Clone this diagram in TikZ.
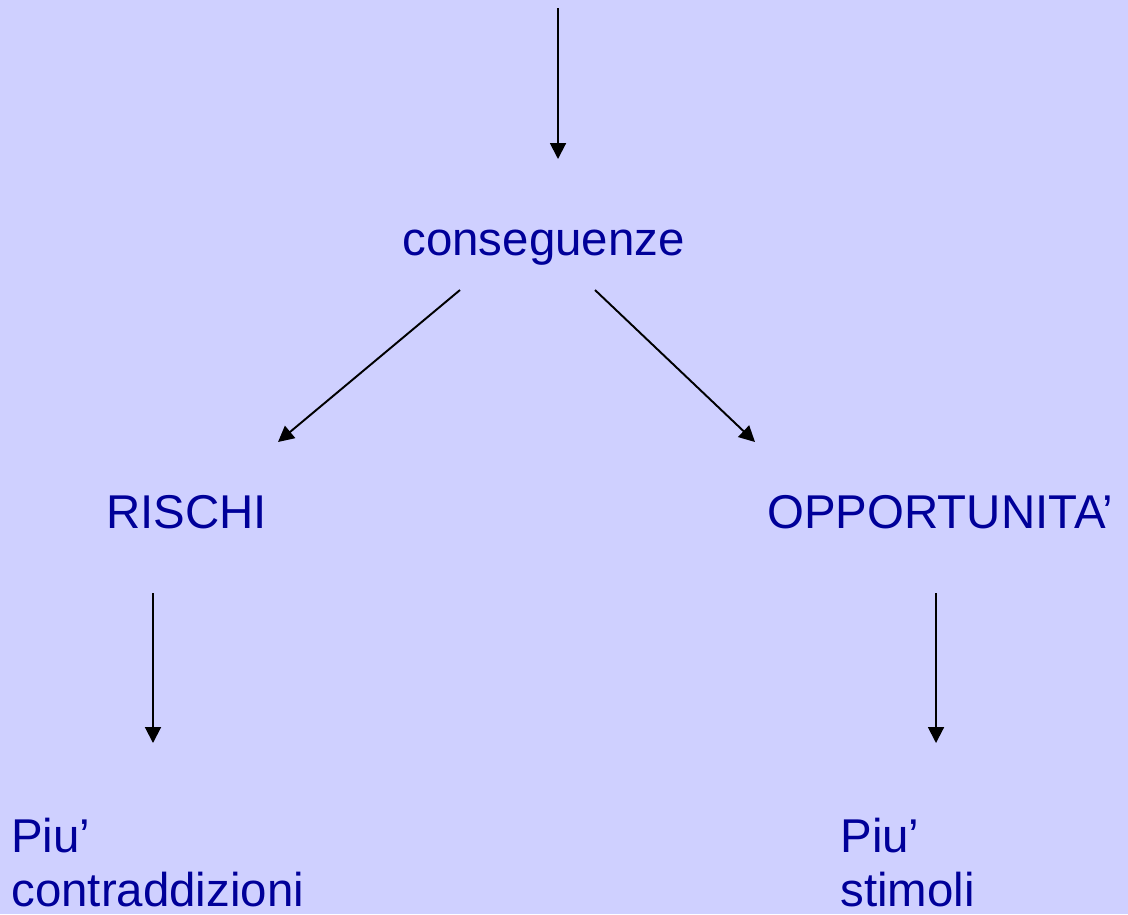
\documentclass[tikz,border=0pt]{standalone}
\usepackage{fontspec}
\setmainfont{Liberation Sans}
\usetikzlibrary{arrows.meta}
\definecolor{bgcol}{RGB}{207,208,255}
\definecolor{txtcol}{RGB}{0,0,153}
\begin{document}
\begin{tikzpicture}[x=0.02cm,y=-0.02cm,
  lbl/.style={inner sep=0pt,text=txtcol,font=\fontsize{27}{30.6}\selectfont},
  arr/.style={draw=black,line width=1.1pt,-{Triangle[length=9pt,width=9pt]}}]
\fill[bgcol] (0,0) rectangle (1128,914);
\useasboundingbox (0,0) rectangle (1128,914);
\node[lbl,anchor=base east] (cons) at (685,255) {conseguenze};
\node[lbl,anchor=base west] (risc) at (106,528) {RISCHI};
\node[lbl,anchor=base east] (oppo) at (1113,528) {OPPORTUNITA’};
\node[lbl,anchor=base west,align=left] (contr) at (11,906) {Piu’\\contraddizioni};
\node[lbl,anchor=base west,align=left] (stim) at (840,906) {Piu’\\stimoli};
\coordinate (top) at (558,8);
\coordinate (topend) at (558,159);
\coordinate (consL) at (460,290);
\coordinate (consR) at (595,290);
\coordinate (riscT) at (278,442);
\coordinate (oppoT) at (755,442);
\coordinate (riscB) at (153,593);
\coordinate (contrT) at (153,743);
\coordinate (oppoB) at (936,593);
\coordinate (stimT) at (936,743);
\draw[arr] (top) -- (topend);
\draw[arr] (consL) -- (riscT);
\draw[arr] (consR) -- (oppoT);
\draw[arr] (riscB) -- (contrT);
\draw[arr] (oppoB) -- (stimT);
\end{tikzpicture}
\end{document}
